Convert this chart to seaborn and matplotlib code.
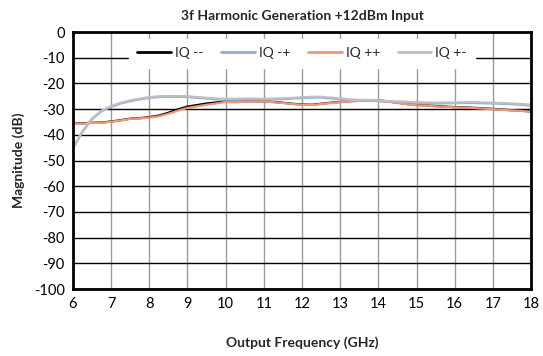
import numpy as np
import pandas as pd
import matplotlib
matplotlib.use("Agg")
import matplotlib.pyplot as plt
import seaborn as sns

# output frequency (GHz), 0.25 GHz steps
freq = np.arange(6.0, 18.001, 0.25)

iq_pp = [-35.5, -35.6, -35.4, -35.3, -34.9, -34.4, -33.8, -33.6, -33.3, -32.8,
         -31.8, -30.6, -29.5, -28.9, -28.3, -27.8, -27.2, -27.3, -27.1, -27.2,
         -27.0, -27.3, -27.6, -28.0, -28.3, -28.4, -28.0, -27.6, -27.3, -27.0,
         -26.8, -26.5, -26.6, -27.0, -27.6, -28.1, -28.5, -28.6, -28.9, -29.1,
         -29.3, -29.4, -29.6, -29.8, -30.0, -30.3, -30.5, -30.7, -31.0]

iq_mm = [-35.4, -35.5, -35.3, -35.2, -34.8, -34.3, -33.7, -33.5, -33.1, -32.5,
         -31.4, -30.1, -29.0, -28.4, -27.8, -27.4, -27.0, -27.1, -27.0, -27.1,
         -26.9, -27.2, -27.5, -27.9, -28.2, -28.3, -27.9, -27.5, -27.2, -26.9,
         -26.7, -26.5, -26.6, -27.0, -27.5, -28.0, -28.4, -28.5, -28.8, -29.0,
         -29.2, -29.3, -29.5, -29.7, -29.9, -30.2, -30.4, -30.6, -30.9]

iq_pm = [-45.0, -38.5, -33.6, -30.5, -28.8, -27.5, -26.6, -25.9, -25.3, -25.0,
         -24.9, -24.9, -25.0, -25.3, -25.6, -25.9, -26.0, -26.0, -25.9, -25.9,
         -26.0, -25.9, -25.8, -25.6, -25.4, -25.2, -25.2, -25.5, -25.9, -26.2,
         -26.4, -26.4, -26.6, -26.9, -27.0, -27.1, -27.3, -27.4, -27.5, -27.4,
         -27.4, -27.3, -27.3, -27.4, -27.5, -27.6, -27.8, -28.0, -28.3]

iq_mp = [-45.2, -38.8, -33.9, -30.8, -29.1, -27.8, -26.9, -26.2, -25.6, -25.3,
         -25.2, -25.2, -25.3, -25.6, -25.9, -26.2, -26.3, -26.3, -26.2, -26.2,
         -26.3, -26.2, -26.1, -25.9, -25.7, -25.5, -25.5, -25.8, -26.2, -26.5,
         -26.7, -26.7, -26.9, -27.2, -27.3, -27.4, -27.6, -27.7, -27.8, -27.7,
         -27.7, -27.6, -27.6, -27.7, -27.8, -27.9, -28.1, -28.3, -28.6]

series = ["IQ --", "IQ -+", "IQ ++", "IQ +-"]
colors = ["#000000", "#8FAADC", "#F1967A", "#BFBFBF"]

df = pd.concat([
    pd.DataFrame({"freq": freq, "mag": vals, "series": name})
    for name, vals in zip(series, [iq_mm, iq_mp, iq_pp, iq_pm])
])

sns.set_theme(style="white")
plt.rcParams["font.family"] = ["Lato", "DejaVu Sans"]
plt.rcParams["axes.unicode_minus"] = False

fig = plt.figure(figsize=(5.43, 3.56), dpi=100)
ax = fig.add_axes([0.1344, 0.188, 0.8436, 0.722])

sns.lineplot(data=df, x="freq", y="mag", hue="series", hue_order=series,
             palette=colors, linewidth=1.6, ax=ax, sort=False)

ax.set_xlim(6, 18)
ax.set_ylim(-100, 0)
ax.set_xticks(range(6, 19))
ax.set_yticks(range(-100, 1, 10))
ax.tick_params(length=0, labelsize=10.5, colors="#000000", pad=6)
ax.grid(axis="x", color="#9A9A9A", linewidth=1.0)
ax.grid(axis="y", color="#000000", linewidth=1.0)
ax.set_axisbelow(True)
for s in ax.spines.values():
    s.set_color("black")
    s.set_linewidth(2.0)

ax.set_title("3f Harmonic Generation +12dBm Input", fontsize=10,
             fontweight="bold", pad=9)
ax.set_xlabel("Output Frequency (GHz)", fontsize=10, fontweight="bold",
              labelpad=18)
ax.set_ylabel("Magnitude (dB)", fontsize=10, fontweight="bold", labelpad=6)

leg = ax.legend(loc="upper center", bbox_to_anchor=(0.5, 1.0), ncol=4,
                frameon=True, fontsize=10, handlelength=2.4,
                columnspacing=1.3, handletextpad=0.3, borderpad=0.6,
                fancybox=False, title=None)
leg.get_frame().set_facecolor("white")
leg.get_frame().set_edgecolor("white")
leg.get_frame().set_alpha(1.0)
for line in leg.get_lines():
    line.set_linewidth(2.0)

fig.savefig("out.png", dpi=100)
